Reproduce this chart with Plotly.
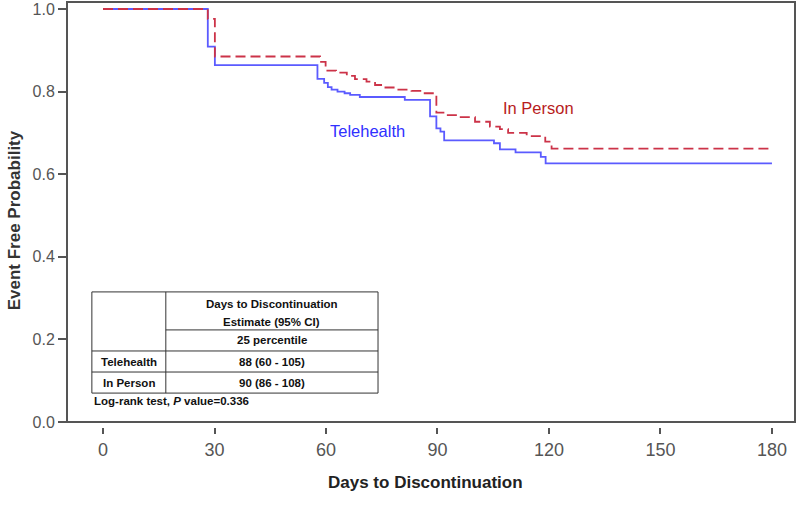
import plotly.graph_objects as go

# Kaplan-Meier step curves (days, event free probability)
tele_days = [0, 28.2, 30.1, 57.7, 59.5, 60.5, 61.5, 63.1, 65.0, 66.5, 69.1, 81.2,
             88.0, 89.7, 90.8, 91.8, 105.2, 106.8, 111.0, 117.8, 119.1, 180]
tele_prob = [1.0, 0.909, 0.864, 0.831, 0.821, 0.811, 0.805, 0.800, 0.796, 0.792, 0.787, 0.780,
             0.740, 0.711, 0.703, 0.682, 0.675, 0.660, 0.653, 0.642, 0.626, 0.626]

person_days = [0, 28.2, 30.1, 58.4, 59.9, 62.7, 65.6, 67.8, 70.9, 73.2, 75.4, 79.0,
               83.0, 85.7, 89.7, 92.0, 95.6, 100.1, 104.1, 106.8, 109.0, 114.0, 119.0,
               120.7, 180]
person_prob = [1.0, 0.976, 0.885, 0.872, 0.851, 0.846, 0.838, 0.830, 0.824, 0.816, 0.810, 0.805,
               0.802, 0.796, 0.749, 0.743, 0.738, 0.727, 0.715, 0.709, 0.700, 0.692, 0.679,
               0.662, 0.662]

x_ticks = [0, 30, 60, 90, 120, 150, 180]
y_ticks = [0.0, 0.2, 0.4, 0.6, 0.8, 1.0]

# summary table text
tbl_header = ["Days to Discontinuation", "Estimate (95% CI)", "25 percentile"]
tbl_groups = ["Telehealth", "In Person"]
tbl_values = ["88 (60 - 105)", "90 (86 - 108)"]
logrank_note = "Log-rank test, <i>P</i> value=0.336"

BLUE = "#5b5bff"
RED = "#cc3348"
FONT = "Liberation Sans, Arial, sans-serif"

fig = go.Figure()
fig.add_trace(go.Scatter(x=tele_days, y=tele_prob, mode="lines", line_shape="hv",
                         line=dict(color=BLUE, width=1.8), name="Telehealth"))
fig.add_trace(go.Scatter(x=person_days, y=person_prob, mode="lines", line_shape="hv",
                         line=dict(color=RED, width=1.8, dash="10px,5px"), name="In Person"))

# plot frame, bottom edge sits on 0.0 and x ticks hang below it
fig.add_shape(type="rect", xref="paper", yref="y", x0=0, x1=1, y0=0, y1=1.017,
              line=dict(color="#555555", width=2), layer="above")

# table grid (data coords)
tx0, tx1, tdiv = -3.0, 74.0, 16.9
ty = [0.315, 0.223, 0.172, 0.121, 0.070]
tline = dict(color="#333333", width=1)
fig.add_shape(type="rect", x0=tx0, x1=tx1, y0=ty[4], y1=ty[0], line=tline)
fig.add_shape(type="line", x0=tdiv, x1=tdiv, y0=ty[4], y1=ty[0], line=tline)
fig.add_shape(type="line", x0=tdiv, x1=tx1, y0=ty[1], y1=ty[1], line=tline)
fig.add_shape(type="line", x0=tx0, x1=tx1, y0=ty[2], y1=ty[2], line=tline)
fig.add_shape(type="line", x0=tx0, x1=tx1, y0=ty[3], y1=ty[3], line=tline)

tfont = dict(family=FONT, size=11.5, color="#111111")
colmid = (tdiv + tx1) / 2
rowmid = (tx0 + tdiv) / 2
fig.add_annotation(x=colmid, y=0.286, text="<b>%s</b>" % tbl_header[0], showarrow=False, font=tfont)
fig.add_annotation(x=colmid, y=0.243, text="<b>%s</b>" % tbl_header[1], showarrow=False, font=tfont)
fig.add_annotation(x=colmid, y=(ty[1] + ty[2]) / 2, text="<b>%s</b>" % tbl_header[2], showarrow=False, font=tfont)
for i in range(2):
    yy = (ty[2 + i] + ty[3 + i]) / 2
    fig.add_annotation(x=rowmid, y=yy, text="<b>%s</b>" % tbl_groups[i], showarrow=False, font=tfont)
    fig.add_annotation(x=colmid, y=yy, text="<b>%s</b>" % tbl_values[i], showarrow=False, font=tfont)
fig.add_annotation(x=tx0, y=0.051, text="<b>%s</b>" % logrank_note, showarrow=False,
                   xanchor="left", font=tfont)

# curve labels
fig.add_annotation(x=117.3, y=0.760, text="In Person", showarrow=False,
                   font=dict(family=FONT, size=16.5, color="#b81c1c"))
fig.add_annotation(x=71.2, y=0.705, text="Telehealth", showarrow=False,
                   font=dict(family=FONT, size=16.5, color="#3030ff"))

# axis titles
fig.add_annotation(xref="paper", yref="paper", x=0.492, y=-0.157, text="<b>Days to Discontinuation</b>",
                   xanchor="center", showarrow=False, font=dict(family=FONT, size=17, color="#222222"))
fig.add_annotation(xref="paper", yref="paper", x=-0.071, y=0.486, text="<b>Event Free Probability</b>",
                   xanchor="center", yanchor="middle", textangle=-90, showarrow=False,
                   font=dict(family=FONT, size=17, color="#333333"))

fig.update_layout(
    width=796, height=505,
    margin=dict(l=67, r=1, t=1, b=78, autoexpand=False),
    paper_bgcolor="white", plot_bgcolor="white",
    showlegend=False,
    font=dict(family=FONT, size=16, color="#555555"),
)
fig.update_xaxes(range=[-9.69, 186.2], tickvals=x_ticks, ticks="outside", ticklen=6,
                 tickwidth=1.5, tickcolor="#555555", showgrid=False, zeroline=False,
                 showline=False, tickfont=dict(size=18, color="#555555"))
fig.update_yaxes(range=[-0.0121, 1.0194], tickvals=y_ticks, tickformat=".1f", ticks="outside",
                 ticklen=8, tickwidth=1.5, tickcolor="#555555", showgrid=False, zeroline=False,
                 showline=False, tickfont=dict(size=16, color="#555555"))

# drop the default 8px body margin so the figure sits at the window origin
fig.write_html("out.html", config={"displayModeBar": False},
               post_script="document.body.style.margin='0px';")
